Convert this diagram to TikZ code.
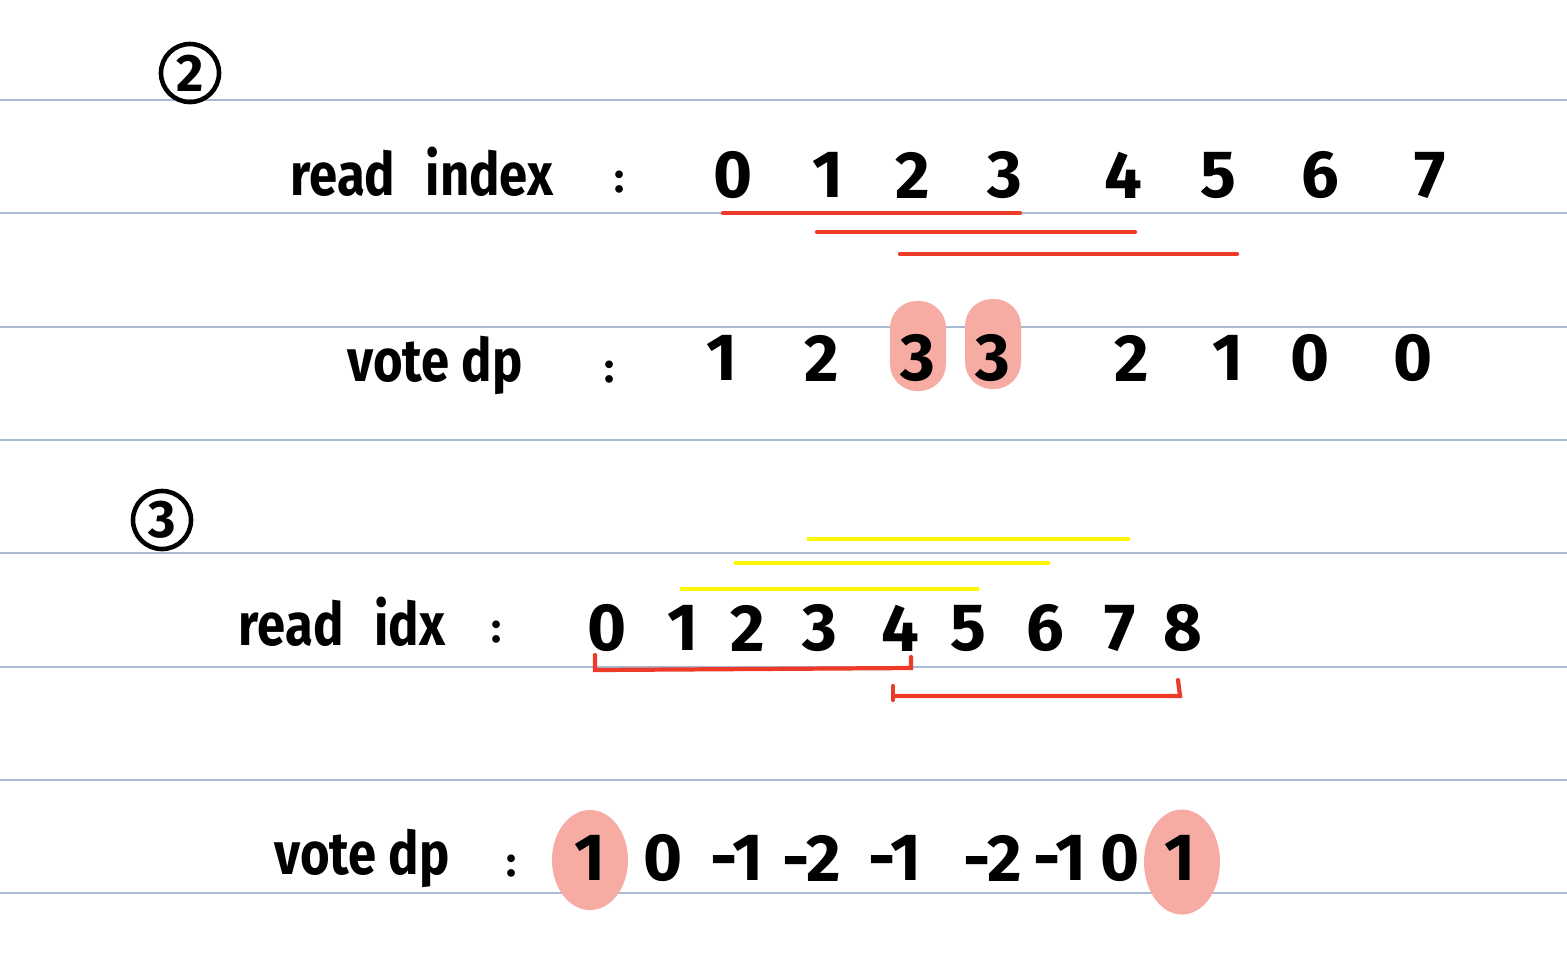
\documentclass[tikz,border=0pt]{standalone}
\usepackage{fontspec}
\setmainfont{Fira Sans}
\usetikzlibrary{positioning, shapes.geometric}
\definecolor{RuleBlue}{RGB}{170,186,212}
\definecolor{InkRed}{RGB}{238,58,40}
\definecolor{InkYellow}{RGB}{255,248,0}
\definecolor{BlobPink}{RGB}{246,172,162}
\newcommand{\narrow}[1]{\scalebox{0.85}[1]{#1}}

\begin{document}
\begin{tikzpicture}[x=0.01cm, y=-0.01cm,
          rule/.style={RuleBlue, line width=0.5pt},
          word/.style={font=\fontsize{17}{20}\selectfont\bfseries, inner sep=0pt},
          num/.style={font=\fontsize{19}{22}\selectfont\bfseries, inner sep=0pt},
          colon/.style={font=\fontsize{12}{14}\selectfont\bfseries, inner sep=0pt},
          stepno/.style={circle, draw, line width=1.3pt, minimum size=0.58cm,
                         inner sep=0pt, font=\fontsize{15}{18}\selectfont\bfseries},
          redline/.style={InkRed, line width=1.2pt, line cap=round},
          yelline/.style={InkYellow, line width=0.9pt},
          blob/.style={fill=BlobPink, rounded corners=0.27cm, minimum width=0.56cm,
                       minimum height=0.9cm, inner sep=0pt},
          oval/.style={ellipse, fill=BlobPink, minimum width=0.76cm,
                       minimum height=1.0cm, inner sep=0pt}
        ]
        \useasboundingbox (0,0) rectangle (1567,960);
        % ruled paper
        \foreach \y in {100,213,327,440,553,667,780,893}
          \draw[rule] (0,\y) -- (1567,\y);

        % part 2
        \node[stepno] (two) at (190,73) {2};
        \node[word] (readA) at (422,172) {\narrow{read\hspace{0.6em}index}};
        \node[colon] (colA) at (620,182) {:};
        \foreach \v/\x in {0/733,1/828,2/913,3/1005,4/1123,5/1218,6/1320,7/1430}
          \node[num] (ra\v) at (\x,175) {\v};

        \coordinate (u1a) at (723,213);  \coordinate (u1b) at (1020,213);
        \coordinate (u2a) at (817,232);  \coordinate (u2b) at (1135,232);
        \coordinate (u3a) at (900,254);  \coordinate (u3b) at (1237,254);
        \draw[redline] (u1a) -- (u1b);
        \draw[redline] (u2a) -- (u2b);
        \draw[redline] (u3a) -- (u3b);

        \node[word] (voteA) at (435,365) {\narrow{vote dp}};
        \node[colon] (colB) at (610,372) {:};
        \node[blob] (pinkA) at (918,346) {};
        \node[blob] (pinkB) at (993,344) {};
        \foreach \v/\x [count=\i] in {1/722,2/822,3/918,3/993,2/1132,1/1228,0/1310,0/1413}
          \node[num] (va\i) at (\x,358) {\v};

        % part 3
        \node[stepno] (three) at (162,520) {3};
        \coordinate (y1a) at (807,539);  \coordinate (y1b) at (1130,539);
        \coordinate (y2a) at (734,563);  \coordinate (y2b) at (1050,563);
        \coordinate (y3a) at (680,589);  \coordinate (y3b) at (979,589);
        \draw[yelline] (y1a) -- (y1b);
        \draw[yelline] (y2a) -- (y2b);
        \draw[yelline] (y3a) -- (y3b);

        \node[word] (readB) at (342,622) {\narrow{read\hspace{0.6em}idx}};
        \node[colon] (colC) at (497,632) {:};
        \foreach \v/\x in {0/607,1/683,2/748,3/820,4/900,5/968,6/1045,7/1120,8/1183}
          \node[num] (rb\v) at (\x,628) {\v};

        \coordinate (b1a) at (595,655);  \coordinate (b1b) at (595,670);
        \coordinate (b1c) at (911,668);  \coordinate (b1d) at (911,657);
        \coordinate (b2a) at (893,686);  \coordinate (b2b) at (893,700);
        \coordinate (b2c) at (1180,696); \coordinate (b2d) at (1178,680);
        \draw[redline] (b1a) -- (b1b) -- (b1c) -- (b1d);
        \draw[redline] (b2a) -- (b2b);
        \draw[redline] (b2a |- b2c) -- (b2c) -- (b2d);

        \node[word] (voteB) at (362,858) {\narrow{vote dp}};
        \node[colon] (colD) at (512,866) {:};
        \node[oval] (pinkC) at (590,860) {};
        \node[oval, minimum height=1.05cm] (pinkD) at (1182,862) {};
        \foreach \v/\x [count=\i] in {1/590,0/663,-1/737,-2/812,-1/895,-2/993,-1/1060,0/1120,1/1180}
          \node[num] (vb\i) at (\x,858) {\v};
      \end{tikzpicture}
\end{document}
